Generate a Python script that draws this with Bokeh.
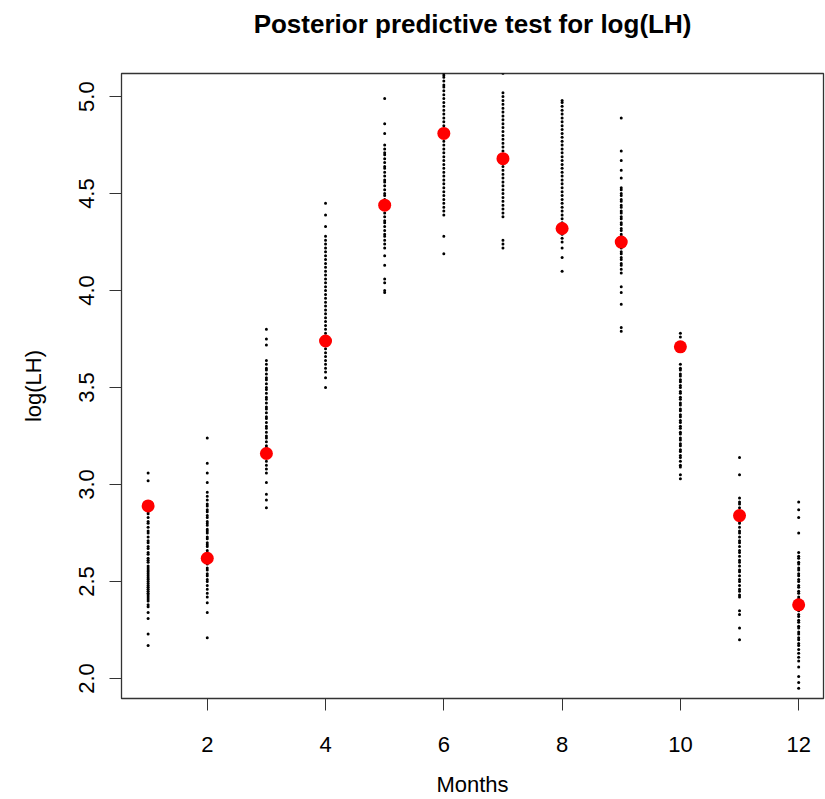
from bokeh.plotting import figure
from bokeh.models import FixedTicker, Range1d, ColumnDataSource, Title
from bokeh.embed import file_html
from bokeh.resources import INLINE

months = list(range(1, 13))
observed = [2.89, 2.62, 3.16, 3.74, 4.44, 4.81, 4.68, 4.32, 4.25, 3.71, 2.84, 2.38]

m01 = [3.06, 3.02, 2.88, 2.86, 2.85, 2.83, 2.81, 2.80, 2.78, 2.76, 2.75, 2.73, 2.71, 2.70, 2.68, 2.67,
       2.65, 2.64, 2.62, 2.61, 2.60, 2.58, 2.57, 2.56, 2.55, 2.54, 2.53, 2.52, 2.51, 2.50, 2.49, 2.48,
       2.47, 2.46, 2.45, 2.44, 2.43, 2.42, 2.41, 2.40, 2.38, 2.37, 2.34, 2.31, 2.23, 2.17]
m02 = [3.24, 3.11, 3.06, 3.01, 2.96, 2.94, 2.92, 2.90, 2.89, 2.87, 2.86, 2.84, 2.83, 2.81, 2.80, 2.79,
       2.77, 2.76, 2.75, 2.73, 2.72, 2.70, 2.69, 2.68, 2.66, 2.65, 2.63, 2.62, 2.60, 2.59, 2.57, 2.56,
       2.54, 2.53, 2.51, 2.50, 2.48, 2.46, 2.44, 2.42, 2.39, 2.34, 2.21]
m03 = [3.80, 3.75, 3.72, 3.64, 3.62, 3.60, 3.59, 3.57, 3.55, 3.54, 3.52, 3.50, 3.49, 3.47, 3.45, 3.44,
       3.42, 3.40, 3.39, 3.37, 3.35, 3.34, 3.32, 3.30, 3.29, 3.27, 3.25, 3.24, 3.22, 3.20, 3.19, 3.17,
       3.15, 3.14, 3.12, 3.10, 3.08, 3.06, 3.01, 2.95, 2.92, 2.88]
m04 = [4.45, 4.39, 4.33, 4.28, 4.26, 4.24, 4.22, 4.20, 4.18, 4.16, 4.14, 4.12, 4.10, 4.08, 4.06, 4.04,
       4.02, 4.00, 3.98, 3.96, 3.94, 3.92, 3.90, 3.88, 3.86, 3.84, 3.82, 3.80, 3.78, 3.76, 3.74, 3.72,
       3.70, 3.68, 3.66, 3.64, 3.62, 3.60, 3.58, 3.55, 3.50]
m05 = [4.99, 4.86, 4.81, 4.75, 4.73, 4.71, 4.70, 4.68, 4.66, 4.64, 4.63, 4.61, 4.59, 4.57, 4.56, 4.54,
       4.52, 4.50, 4.49, 4.47, 4.45, 4.43, 4.42, 4.40, 4.38, 4.36, 4.35, 4.33, 4.31, 4.29, 4.28, 4.26,
       4.24, 4.22, 4.18, 4.13, 4.06, 4.04, 4.00, 3.99]
m06 = [5.12, 5.11, 5.10, 5.08, 5.06, 5.05, 5.03, 5.01, 4.99, 4.97, 4.95, 4.93, 4.91, 4.89, 4.87, 4.85,
       4.83, 4.81, 4.79, 4.77, 4.75, 4.73, 4.71, 4.69, 4.67, 4.65, 4.63, 4.61, 4.59, 4.57, 4.55, 4.53,
       4.51, 4.49, 4.47, 4.45, 4.43, 4.41, 4.39, 4.28, 4.19]
m07 = [5.12, 5.02, 5.00, 4.98, 4.96, 4.94, 4.92, 4.90, 4.88, 4.86, 4.84, 4.82, 4.80, 4.78, 4.76, 4.74,
       4.72, 4.70, 4.68, 4.66, 4.64, 4.62, 4.60, 4.58, 4.56, 4.54, 4.52, 4.50, 4.48, 4.46, 4.44, 4.42,
       4.40, 4.38, 4.26, 4.24, 4.22]
m08 = [4.98, 4.97, 4.95, 4.93, 4.91, 4.89, 4.87, 4.85, 4.83, 4.81, 4.79, 4.77, 4.75, 4.73, 4.71, 4.69,
       4.67, 4.65, 4.63, 4.61, 4.59, 4.57, 4.55, 4.53, 4.51, 4.49, 4.47, 4.45, 4.43, 4.41, 4.39, 4.37,
       4.35, 4.33, 4.31, 4.29, 4.27, 4.25, 4.22, 4.17, 4.10]
m09 = [4.89, 4.72, 4.67, 4.62, 4.58, 4.53, 4.52, 4.50, 4.49, 4.47, 4.46, 4.44, 4.43, 4.41, 4.40, 4.38,
       4.37, 4.35, 4.34, 4.32, 4.31, 4.29, 4.28, 4.26, 4.25, 4.23, 4.22, 4.20, 4.19, 4.17, 4.16, 4.14,
       4.13, 4.11, 4.09, 4.02, 3.99, 3.93, 3.81, 3.79]
m10 = [3.78, 3.76, 3.62, 3.60, 3.59, 3.57, 3.56, 3.54, 3.53, 3.51, 3.50, 3.48, 3.47, 3.45, 3.44, 3.42,
       3.41, 3.39, 3.38, 3.36, 3.35, 3.33, 3.32, 3.30, 3.29, 3.27, 3.26, 3.24, 3.23, 3.21, 3.20, 3.18,
       3.17, 3.15, 3.14, 3.12, 3.10, 3.09, 3.05, 3.03]
m11 = [3.14, 3.05, 2.93, 2.91, 2.90, 2.88, 2.86, 2.85, 2.83, 2.81, 2.80, 2.78, 2.76, 2.75, 2.73, 2.71,
       2.70, 2.68, 2.66, 2.65, 2.63, 2.61, 2.60, 2.58, 2.56, 2.55, 2.53, 2.51, 2.50, 2.48, 2.46, 2.45,
       2.43, 2.42, 2.35, 2.33, 2.26, 2.20]
m12 = [2.91, 2.87, 2.83, 2.75, 2.65, 2.63, 2.62, 2.60, 2.59, 2.57, 2.56, 2.54, 2.53, 2.51, 2.50, 2.48,
       2.47, 2.45, 2.44, 2.42, 2.41, 2.39, 2.38, 2.36, 2.35, 2.33, 2.32, 2.30, 2.29, 2.27, 2.26, 2.24,
       2.23, 2.21, 2.20, 2.18, 2.17, 2.15, 2.13, 2.11, 2.09, 2.06, 2.01, 1.98, 1.95]

samples = [m01, m02, m03, m04, m05, m06, m07, m08, m09, m10, m11, m12]

x_ticks = [2, 4, 6, 8, 10, 12]
y_ticks = [2.0, 2.5, 3.0, 3.5, 4.0, 4.5, 5.0]

FONT = "Liberation Sans"

p = figure(width=825, height=799, output_backend="svg", toolbar_location=None,
           x_range=Range1d(0.55, 12.42), y_range=Range1d(1.897, 5.119),
           min_border_left=121, min_border_right=2, min_border_top=73, min_border_bottom=101)

# spacer between the title and the frame
p.add_layout(Title(text=" ", text_font=FONT, text_font_size="10px", standoff=19), "above")

p.title.text = "Posterior predictive test for log(LH)"
p.title.align = "center"
p.title.text_font = FONT
p.title.text_font_size = "26px"
p.title.text_font_style = "bold"
p.title.text_color = "black"
p.title.standoff = 6

sx, sy = [], []
for m, vals in zip(months, samples):
    sx.extend([m] * len(vals))
    sy.extend(vals)
src = ColumnDataSource(dict(x=sx, y=sy))
p.scatter("x", "y", source=src, size=3, color="black", line_color=None)

p.scatter(months, observed, size=13, color="#ff0000", line_color=None)

p.xgrid.visible = False
p.ygrid.visible = False
p.outline_line_color = "#333333"
p.outline_line_width = 1.3
p.background_fill_color = "white"
p.border_fill_color = "white"

for ax in (p.xaxis[0], p.yaxis[0]):
    ax.axis_line_color = "#333333"
    ax.major_tick_line_color = "#333333"
    ax.major_tick_out = 12
    ax.major_tick_in = 0
    ax.minor_tick_line_color = None
    ax.major_label_text_font = FONT
    ax.major_label_text_font_size = "22px"
    ax.major_label_text_color = "black"
    ax.axis_label_text_font = FONT
    ax.axis_label_text_font_size = "22px"
    ax.axis_label_text_font_style = "normal"
    ax.axis_label_text_color = "black"

p.xaxis.ticker = FixedTicker(ticks=x_ticks)
p.yaxis.ticker = FixedTicker(ticks=y_ticks)
p.yaxis.major_label_overrides = {v: f"{v:.1f}" for v in y_ticks}
p.yaxis.major_label_orientation = "vertical"
p.xaxis.axis_label = "Months"
p.yaxis.axis_label = "log(LH)"
p.xaxis.major_label_standoff = 26
p.yaxis.major_label_standoff = 15
p.xaxis.axis_label_standoff = 17
p.yaxis.axis_label_standoff = 31

open("out.html", "w").write(file_html(p, INLINE))
